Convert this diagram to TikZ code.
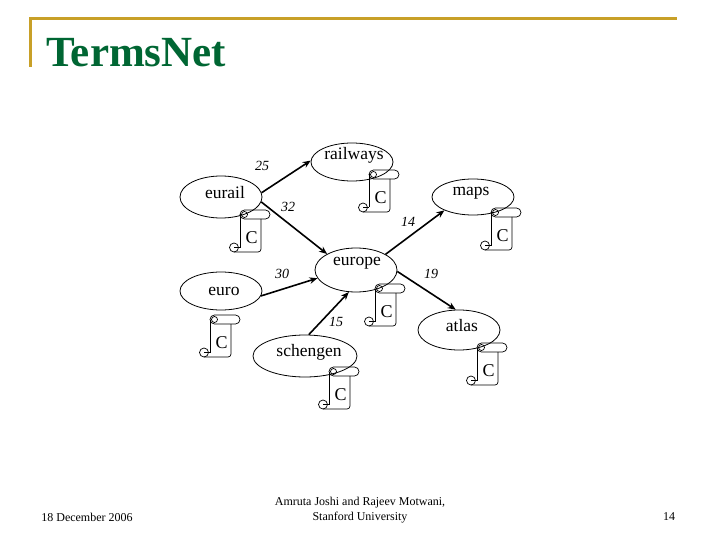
\documentclass[tikz,border=0pt]{standalone}
\usepackage{fontspec}
\setmainfont{Liberation Serif}
\usetikzlibrary{shapes.geometric,arrows.meta}
\definecolor{slidegold}{RGB}{200,160,40}
\definecolor{titlegreen}{RGB}{0,102,51}
\begin{document}
\begin{tikzpicture}[x=1pt,y=-1pt,
  term/.style={draw,ellipse,line width=0.8pt,inner sep=0pt},
  lbl/.style={inner sep=0pt,font=\fontsize{17.5}{19}\selectfont},
  wt/.style={inner sep=0pt,font=\fontsize{14}{16}\selectfont\itshape},
  foot/.style={inner sep=0pt,font=\fontsize{12}{15.5}\selectfont},
  link/.style={line width=1.6pt,-{Stealth[length=8pt,width=6.5pt]}},
  scroll/.pic={
    \draw[line width=0.7pt,rounded corners=4.5pt] (0,0) rectangle (30,9);
    \draw[line width=0.7pt] (4.5,4.5) circle (3);
    \draw[line width=0.7pt] (0,4.5) -- (0,37.5);
    \draw[line width=0.7pt,rounded corners=3pt] (21,9) -- (21,42) -- (-6,42);
    \draw[line width=0.7pt] (-6,37.5) circle (4.5);
    \draw[line width=0.7pt] (-6,37.5) -- (0,37.5);
    \node[inner sep=0pt,font=\fontsize{18}{20}\selectfont] (-c) at (11.5,27.5) {C};
  }]
\useasboundingbox (0,0) rectangle (720,540);
\fill[white] (0,0) rectangle (720,540);
% frame and title
\draw[slidegold,line width=3pt] (30.5,67) -- (30.5,19) -- (677,19);
\node[anchor=base west,inner sep=0pt,font=\fontsize{43}{48}\selectfont\bfseries,text=titlegreen] (title) at (46,67) {TermsNet};
% term ellipses
\node[term,minimum width=82pt,minimum height=42pt] (eurail) at (221,197) {};
\node[term,minimum width=82pt,minimum height=38pt] (railways) at (352,162) {};
\node[term,minimum width=82pt,minimum height=36pt] (maps) at (473,197) {};
\node[term,minimum width=82pt,minimum height=44pt] (europe) at (356,270) {};
\node[term,minimum width=82pt,minimum height=38pt] (euro) at (221,291) {};
\node[term,minimum width=104pt,minimum height=42pt] (schengen) at (305,356) {};
\node[term,minimum width=82pt,minimum height=40pt] (atlas) at (459,330) {};
% labels
\node[lbl] (l-eurail) at (225,193) {eurail};
\node[lbl] (l-railways) at (354,155) {railways};
\node[lbl] (l-maps) at (471,193) {maps};
\node[lbl] (l-europe) at (357,263) {europe};
\node[lbl] (l-euro) at (224,291) {euro};
\node[lbl] (l-schengen) at (309,352) {schengen};
\node[lbl] (l-atlas) at (462,326) {atlas};
% scrolls
\pic (s-eurail) at (240,210) {scroll};
\pic (s-railways) at (369,170) {scroll};
\pic (s-maps) at (491,208) {scroll};
\pic (s-europe) at (375,284) {scroll};
\pic (s-euro) at (210,315) {scroll};
\pic (s-schengen) at (329,367) {scroll};
\pic (s-atlas) at (477,343) {scroll};
% links
\draw[link] (eurail.6) -- (railways.178);
\draw[link] (eurail.-7) -- (europe.151);
\draw[link] (europe.28) -- (maps.205);
\draw[link] (euro.-7) -- (europe.192);
\draw[link] (schengen.80) -- (europe.252);
\draw[link] (europe.-2) -- (atlas.99);
% weights
\node[wt] (w25) at (262,166) {25};
\node[wt] (w32) at (288,207) {32};
\node[wt] (w14) at (408,222) {14};
\node[wt] (w30) at (282,274) {30};
\node[wt] (w19) at (431,274) {19};
\node[wt] (w15) at (336,322) {15};
% footer
\node[foot] (date) at (87,517) {18 December 2006};
\node[foot,align=center] (auth) at (360,510) {Amruta Joshi and Rajeev Motwani,\\Stanford University};
\node[foot] (page) at (669,517) {14};
\end{tikzpicture}
\end{document}
